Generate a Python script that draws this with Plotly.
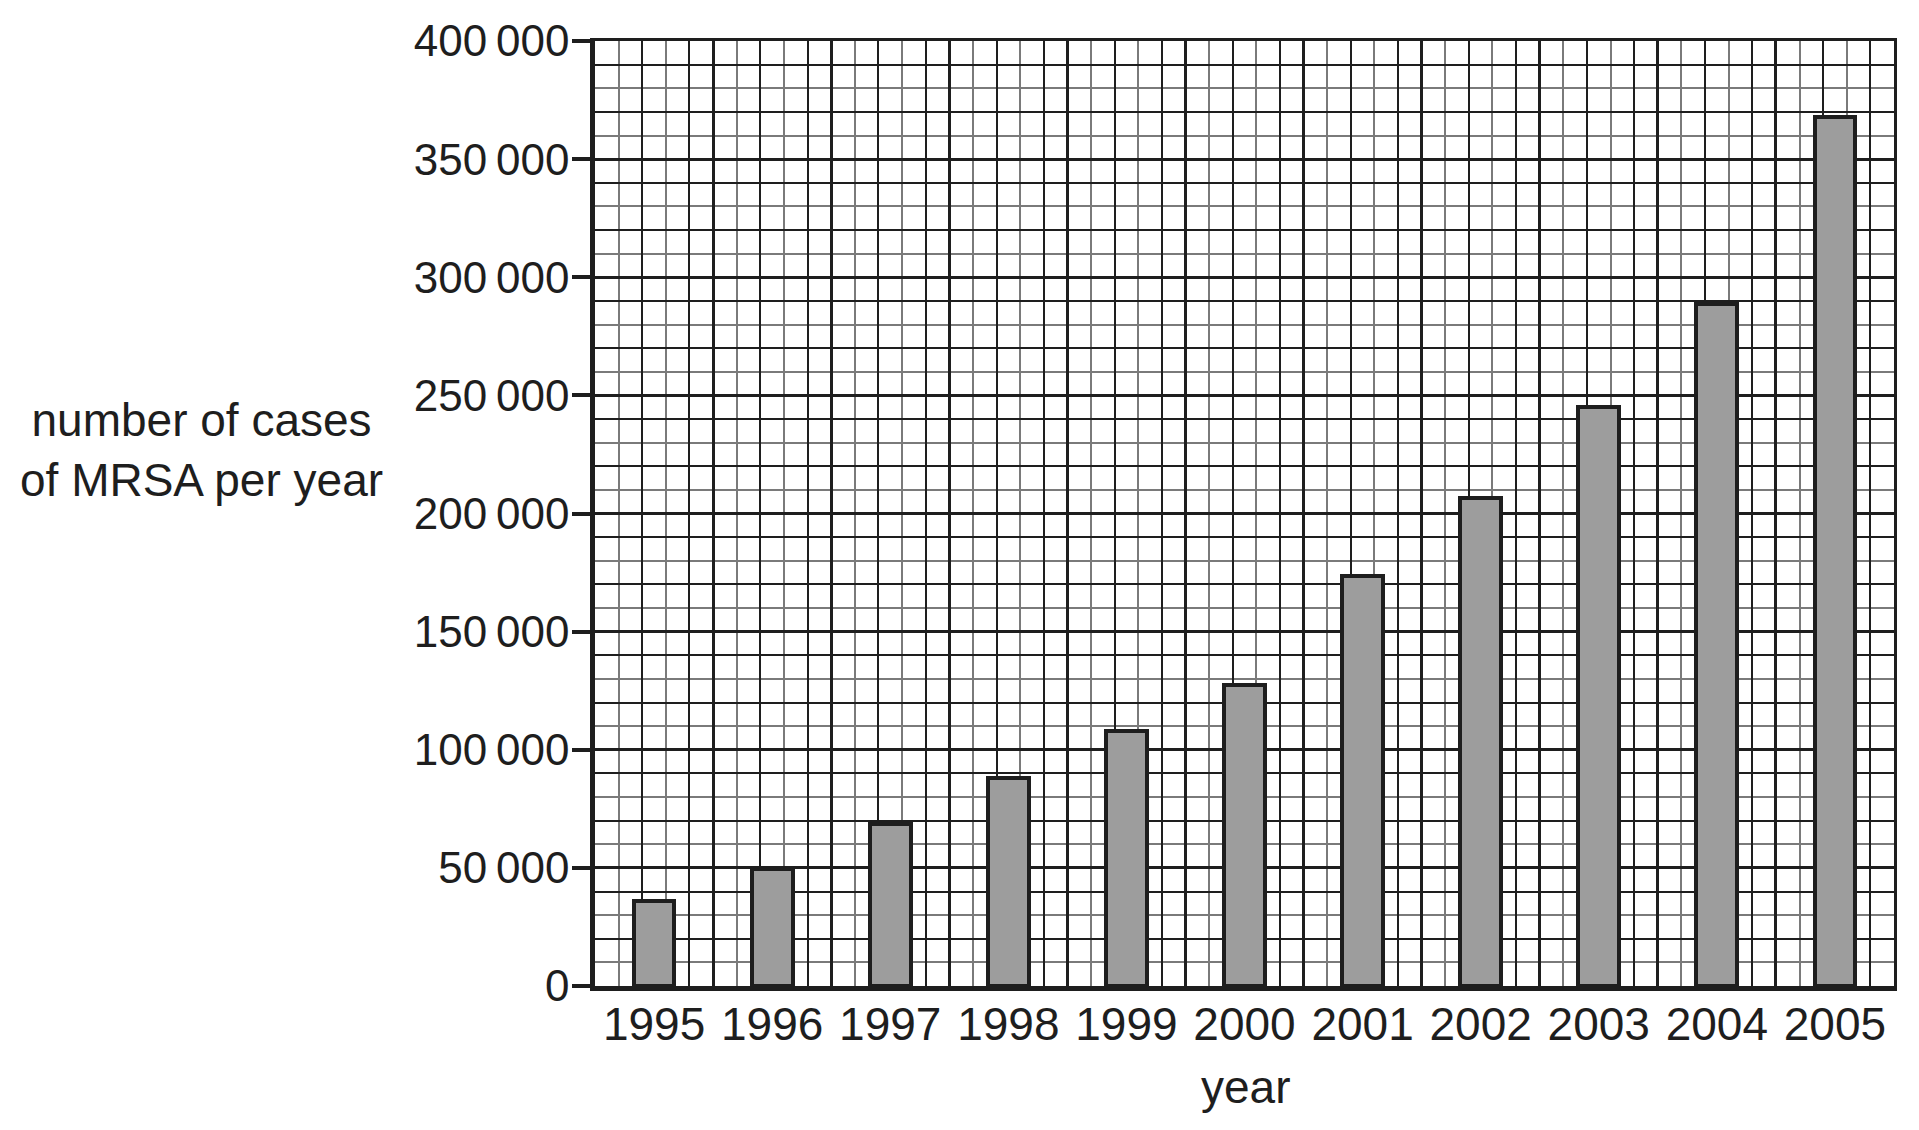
import plotly.graph_objects as go

years = ["1995", "1996", "1997", "1998", "1999", "2000", "2001", "2002", "2003", "2004", "2005"]
cases = [36000, 49500, 68500, 88000, 108000, 127500, 173500, 206500, 245000, 288500, 368000]
y_tick_values = [0, 50000, 100000, 150000, 200000, 250000, 300000, 350000, 400000]
y_tick_labels = ["0", "50\u2009000", "100\u2009000", "150\u2009000", "200\u2009000", "250\u2009000",
                 "300\u2009000", "350\u2009000", "400\u2009000"]

DARK = "#1e1e1e"
GRAY = "#7a7a7a"
FONT = "Liberation Sans, Arial, Helvetica, sans-serif"

n = len(years)
xpos = list(range(n))
xmin, xmax = -0.5, n - 0.5
ymin, ymax = 0, 400000

# grid positions (styling)
x_major = [xmin + i for i in range(n + 1)]
x_dark_minor = [xmin + i + f for i in range(n) for f in (0.4, 0.8)]
y_dark_minor = [b + f for b in range(0, 400000, 50000) for f in (20000, 40000)]

fig = go.Figure()
fig.add_trace(go.Bar(
    x=xpos, y=cases, width=0.345,
    marker=dict(color="#9d9d9d", line=dict(color=DARK, width=4)),
    hoverinfo="skip", showlegend=False,
))
# empty traces so overlay axes are instantiated
fig.add_trace(go.Scatter(x=[], y=[], xaxis="x2", yaxis="y", showlegend=False))
fig.add_trace(go.Scatter(x=[], y=[], xaxis="x3", yaxis="y", showlegend=False))
fig.add_trace(go.Scatter(x=[], y=[], xaxis="x", yaxis="y2", showlegend=False))
fig.add_trace(go.Scatter(x=[], y=[], xaxis="x", yaxis="y3", showlegend=False))

fig.update_layout(
    width=1919, height=1130,
    margin=dict(l=595, r=25, t=41, b=144),
    paper_bgcolor="white", plot_bgcolor="white",
    font=dict(family=FONT, color=DARK, size=46),
    bargap=0,
    xaxis=dict(
        range=[xmin, xmax], tickmode="array", tickvals=xpos, ticktext=years,
        showgrid=False, zeroline=False, ticks="",
        showline=True, linecolor=DARK, linewidth=4.5,
        tickfont=dict(size=46, family=FONT, color=DARK),
        ticklabelstandoff=-6,
        minor=dict(tickmode="linear", tick0=xmin, dtick=0.2, showgrid=True,
                   gridcolor=GRAY, gridwidth=2, ticks=""),
        fixedrange=True,
    ),
    xaxis2=dict(
        overlaying="x", anchor="y", side="top", range=[xmin, xmax],
        tickmode="array", tickvals=x_major, showticklabels=False, ticks="",
        showgrid=True, gridcolor=DARK, gridwidth=2.8, zeroline=False,
        showline=True, linecolor=DARK, linewidth=3,
    ),
    xaxis3=dict(
        overlaying="x", anchor="y", range=[xmin, xmax],
        tickmode="array", tickvals=x_dark_minor, showticklabels=False, ticks="",
        showgrid=True, gridcolor=DARK, gridwidth=1.8, zeroline=False, showline=False,
    ),
    yaxis=dict(
        range=[ymin, ymax], tickmode="array", tickvals=y_tick_values, ticktext=y_tick_labels,
        showgrid=True, gridcolor=DARK, gridwidth=2.8, zeroline=False,
        ticks="outside", ticklen=18, tickwidth=4, tickcolor=DARK,
        showline=True, linecolor=DARK, linewidth=4.5,
        tickfont=dict(size=44, family=FONT, color=DARK),
        ticklabelstandoff=-6,
        minor=dict(tickmode="linear", tick0=0, dtick=10000, showgrid=True,
                   gridcolor=GRAY, gridwidth=2, ticks=""),
        fixedrange=True,
    ),
    yaxis2=dict(
        overlaying="y", anchor="x", side="right", range=[ymin, ymax],
        showticklabels=False, ticks="", showgrid=False, zeroline=False,
        showline=True, linecolor=DARK, linewidth=3,
    ),
    yaxis3=dict(
        overlaying="y", anchor="x", range=[ymin, ymax],
        tickmode="array", tickvals=y_dark_minor, showticklabels=False, ticks="",
        showgrid=True, gridcolor=DARK, gridwidth=1.8, zeroline=False, showline=False,
    ),
    annotations=[
        dict(text="number of cases<br>of MRSA per year", xref="paper", yref="paper",
             x=-0.303, y=0.567, xanchor="center", yanchor="middle", showarrow=False,
             font=dict(size=46, family=FONT, color=DARK), align="center"),
        dict(text="year", xref="paper", yref="paper", x=0.5005, y=-0.107,
             xanchor="center", yanchor="middle", showarrow=False,
             font=dict(size=46, family=FONT, color=DARK)),
    ],
)

fig.write_html("out.html")
